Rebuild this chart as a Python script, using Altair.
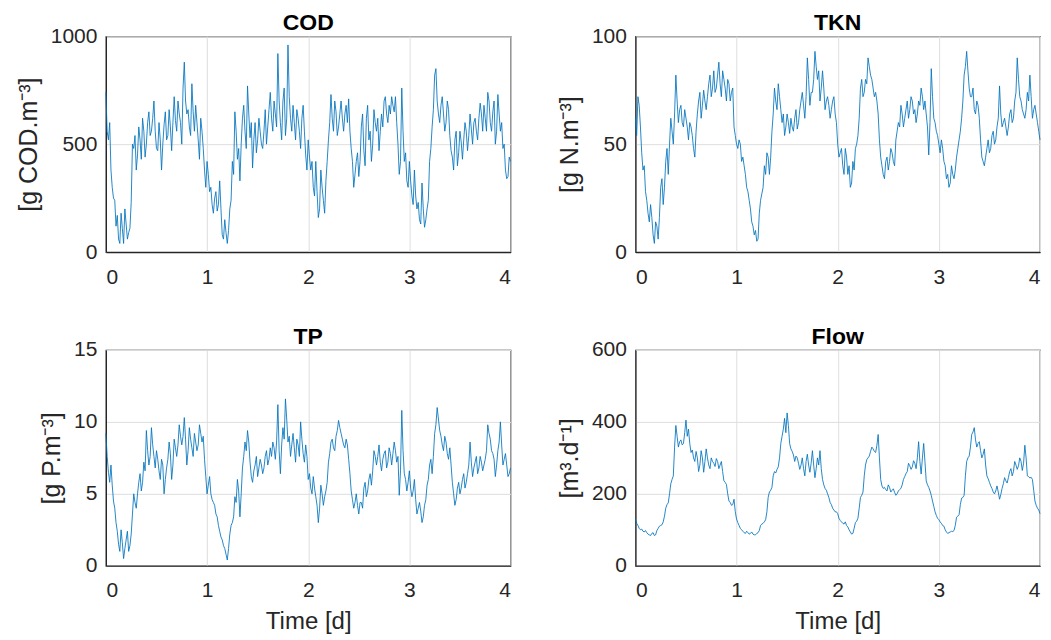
import altair as alt
import pandas as pd

# series sampled every 0.0125 d from 0 to 4 d
cod = [740,560,520,600,380,300,250,240,120,170,60,40,180,110,40,200,130,60,90,110,
       230,500,480,540,380,450,580,520,430,620,560,440,500,600,650,540,560,620,700,560,
       480,470,600,520,380,500,590,650,520,540,660,580,470,600,720,610,560,700,640,600,
       500,760,880,700,640,660,580,540,780,650,560,680,600,520,430,620,560,480,380,300,
       420,360,280,300,220,180,250,280,190,220,330,200,80,60,150,90,40,100,200,240,
       420,360,650,560,430,480,330,500,620,680,560,480,770,640,530,600,390,520,600,460,
       520,620,560,500,480,560,660,500,580,660,740,620,560,700,640,580,920,700,600,520,
       700,760,540,620,960,720,620,560,680,600,520,660,620,560,480,620,680,560,450,380,
       520,440,380,420,300,260,420,280,160,200,380,300,240,180,330,420,520,600,730,620,
       560,700,650,540,580,640,700,620,560,640,680,600,710,560,480,420,300,360,420,460,
       350,420,580,640,470,400,620,680,520,560,420,500,660,600,560,620,470,560,640,580,
       700,720,640,600,680,640,720,680,650,720,600,500,360,420,760,560,420,460,330,300,
       420,330,260,220,380,260,200,230,150,130,320,200,115,150,200,240,420,480,580,660,
       820,850,700,640,600,680,720,640,560,600,700,660,540,470,440,380,520,560,400,460,
       560,510,430,520,600,560,470,540,640,570,500,600,620,560,520,620,690,640,560,680,
       620,560,740,700,600,560,650,700,500,560,730,640,560,600,480,500,380,340,350,440, 420]

tkn = [62,54,72,68,58,46,38,40,28,24,18,14,22,16,8,4,14,12,6,16,
       30,34,22,30,42,48,36,50,62,56,50,64,82,70,60,66,68,60,58,66,
       62,58,52,60,58,54,48,44,56,64,70,74,62,68,75,70,66,72,78,82,
       72,76,84,74,76,82,88,78,72,84,80,76,70,80,78,70,74,76,58,54,
       50,48,52,50,42,44,40,36,30,28,24,20,14,12,8,10,5,6,18,24,
       27,30,40,36,46,44,36,44,56,64,76,70,66,78,72,66,60,64,54,58,
       64,60,55,62,58,56,62,66,57,60,66,70,74,68,62,72,90,80,68,74,
       74,80,93,86,80,84,70,76,84,76,66,70,72,68,62,66,70,72,64,60,
       50,44,46,48,40,36,48,44,36,40,30,32,42,38,48,50,54,62,76,80,
       72,74,80,78,90,86,82,80,76,72,74,70,64,52,44,40,36,34,42,44,
       38,42,48,46,42,40,52,56,60,58,68,64,58,62,66,70,62,66,72,70,
       64,66,60,64,70,68,76,72,66,70,64,58,45,60,85,72,62,60,56,54,
       50,46,52,48,42,40,34,36,30,32,40,36,34,38,44,48,52,56,62,70,
       82,86,93,84,76,72,72,76,66,64,70,68,62,52,44,42,40,44,48,52,
       46,48,54,56,50,52,58,62,77,64,58,60,62,58,54,58,64,66,60,62,
       70,74,90,80,72,70,66,64,62,66,74,70,82,72,62,66,68,64,60,56, 52]

tp = [9.2,7.6,6.5,5.8,7.0,5.6,4.5,4.0,3.0,2.4,1.5,1.0,2.5,1.6,0.5,1.2,1.8,2.4,1.0,1.4,
      2.2,3.6,5.0,4.4,4.0,5.0,5.8,6.4,5.2,5.8,7.2,6.6,9.4,8.0,7.0,7.6,9.6,8.4,7.6,6.8,
      8.0,7.4,6.6,6.0,7.4,7.0,5.0,6.0,6.8,7.4,8.6,7.8,6.0,7.0,8.8,8.2,7.6,8.4,9.8,9.0,
      8.4,9.0,10.3,8.8,7.0,8.0,9.6,8.8,8.2,7.6,9.2,8.6,8.0,8.4,9.8,9.2,8.6,9.0,7.4,6.2,
      5.0,5.6,6.2,5.0,4.6,4.4,4.2,3.6,3.4,2.8,2.4,2.0,1.8,1.4,1.2,0.8,0.4,1.2,2.2,2.8,
      3.0,3.4,4.8,4.4,6.0,5.2,3.4,5.0,6.8,7.6,8.6,8.0,9.4,8.6,7.2,6.2,5.8,6.6,7.0,7.6,
      6.2,6.8,7.4,7.0,6.4,6.8,7.6,8.0,7.0,7.4,8.2,7.6,8.6,8.2,7.4,8.6,11.2,8.0,6.4,8.4,
      9.6,8.8,11.6,10.2,8.6,9.0,7.6,8.4,9.2,8.2,7.2,8.8,8.4,7.6,10.0,8.8,7.8,7.2,8.4,7.6,
      6.0,6.4,5.4,5.0,6.2,5.4,4.8,4.2,3.0,4.0,5.6,5.0,4.2,4.8,5.2,5.8,7.2,7.8,8.6,8.8,
      8.2,8.0,9.0,9.4,10.1,9.6,9.2,8.8,8.4,8.2,8.8,8.4,7.4,6.4,5.2,4.6,4.0,4.4,5.0,4.2,
      3.6,4.4,4.4,4.0,5.4,5.8,4.8,5.2,6.0,6.4,5.6,6.6,8.0,7.6,7.0,7.6,8.4,7.2,6.6,7.4,
      7.8,8.0,6.8,7.2,8.2,7.8,7.0,7.8,8.6,8.0,7.2,7.6,4.9,6.6,10.8,8.0,6.4,6.0,5.2,5.8,
      6.6,5.4,4.8,5.2,6.0,4.6,3.6,4.0,4.4,3.8,3.0,3.4,4.2,4.6,5.6,6.0,7.0,7.4,6.4,7.6,
      9.2,9.8,11.0,10.2,9.4,9.0,8.4,8.0,9.0,8.6,7.8,7.4,8.2,7.0,5.8,5.0,4.2,4.6,5.4,5.8,
      5.0,5.4,6.0,6.4,5.4,5.8,6.4,7.0,8.6,7.2,6.2,6.8,7.2,7.6,6.4,6.8,7.6,7.2,6.6,7.0,
      7.4,8.0,9.8,9.2,8.8,8.0,7.8,7.4,6.2,7.0,8.0,8.6,10.0,8.4,7.0,7.4,7.8,7.0,6.2,6.4, 6.8]

flow = [130,118,112,104,100,102,96,94,98,92,88,86,84,90,92,84,86,98,104,110,
        112,114,122,138,160,170,175,200,228,240,250,330,390,360,330,345,350,336,340,370,
        405,360,380,340,315,322,300,290,318,300,262,280,320,300,260,290,325,300,280,270,
        300,290,285,276,298,290,270,280,290,262,236,232,226,200,180,176,168,170,185,150,
        130,120,112,104,100,96,92,90,96,92,88,90,94,88,86,86,90,92,98,112,
        116,118,122,128,150,190,205,210,218,250,262,258,268,275,300,340,360,380,410,370,
        425,390,340,325,318,308,290,305,300,285,268,280,300,270,250,290,310,280,260,285,
        320,280,245,270,300,280,320,270,240,225,215,210,200,190,176,170,160,155,150,150,
        145,132,126,122,118,116,122,112,108,100,94,88,90,104,120,124,132,160,190,196,
        205,250,280,295,300,305,318,330,325,318,315,335,365,300,240,222,215,218,212,208,
        225,218,205,210,214,204,196,200,208,212,215,225,240,248,256,262,285,278,268,275,
        292,285,270,300,345,290,255,300,340,290,236,225,218,208,196,180,165,150,140,132,
        128,122,118,112,110,100,94,90,92,94,96,95,98,112,135,138,142,170,188,190,
        196,250,290,300,305,330,365,372,384,350,330,340,345,320,300,310,325,280,250,242,
        232,222,215,205,200,208,222,205,185,198,215,228,245,236,230,245,262,270,250,262,
        290,280,268,278,300,290,265,285,335,300,250,248,244,246,240,210,180,168,160,155, 145]

titles = ["COD", "TKN", "TP", "Flow"]
ytitles = ["[g COD.m⁻³]", "[g N.m⁻³]", "[g P.m⁻³]", "[m³.d⁻¹]"]
yticks = [[0, 500, 1000], [0, 50, 100], [0, 5, 10, 15], [0, 200, 400, 600]]
xticks = [0, 1, 2, 3, 4]

FONT = "Liberation Sans"
INK = "#262626"
W, H = 405, 216


def panel(vals, title, ytitle, ytk, bottom):
    n = len(vals)
    times = [4.0 * i / (n - 1) for i in range(n)]
    df = pd.DataFrame({"t": times, "v": vals})
    return alt.Chart(df).mark_line(color="#0072BD", strokeWidth=0.85).encode(
        x=alt.X("t:Q",
                scale=alt.Scale(domain=[0, 4], nice=False, zero=False),
                axis=alt.Axis(values=xticks, format="d",
                              title="Time [d]" if bottom else "")),
        y=alt.Y("v:Q",
                scale=alt.Scale(domain=[ytk[0], ytk[-1]], nice=False),
                axis=alt.Axis(values=ytk, format="d", title=ytitle)),
    ).properties(
        width=W, height=H,
        title=alt.TitleParams(title, fontSize=23, fontWeight="bold", font=FONT,
                              color="#000000", baseline="alphabetic", offset=-28),
    )


top = alt.hconcat(panel(cod, titles[0], ytitles[0], yticks[0], False),
                  panel(tkn, titles[1], ytitles[1], yticks[1], False), spacing=43)
bot = alt.hconcat(panel(tp, titles[2], ytitles[2], yticks[2], True),
                  panel(flow, titles[3], ytitles[3], yticks[3], True), spacing=43)

chart = alt.vconcat(top, bot, spacing=37).properties(
    padding={"left": 7, "top": 3, "right": 0, "bottom": 0}
).configure_view(
    stroke=INK, strokeWidth=1.2
).configure_axis(
    domainColor=INK, domainWidth=1.2, ticks=False,
    grid=True, gridColor="#dedede", gridWidth=1,
    labelFont=FONT, labelFontSize=21, labelColor=INK,
    titleFont=FONT, titleFontSize=24, titleFontWeight="normal", titleColor=INK,
).configure_axisY(
    labelPadding=9, titlePadding=9, titleFontSize=25
).configure_axisX(
    labelPadding=14, titlePadding=9
)

chart.save("out.html", embed_options={"renderer": "svg", "actions": False})
